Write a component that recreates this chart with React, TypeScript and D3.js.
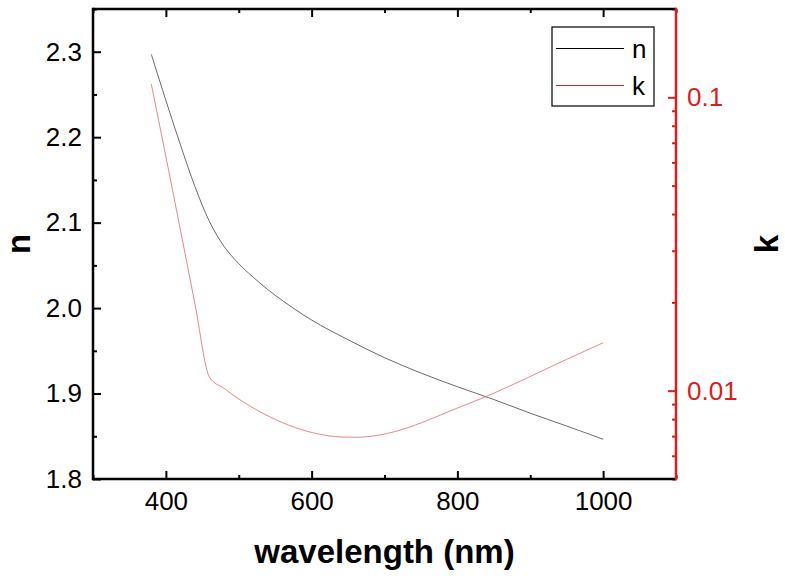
import React, { useRef, useEffect } from 'react';
import * as d3 from 'd3';

// refractive index n(λ)
const nWavelength = [380, 400, 420, 440, 460, 480, 500, 520, 550, 600, 650, 700, 750, 800, 850, 900, 950, 1000];
const nValues = [2.297, 2.243, 2.191, 2.142, 2.101, 2.072, 2.052, 2.036, 2.015, 1.986, 1.963, 1.942, 1.924, 1.908, 1.893, 1.877, 1.862, 1.8465];

// extinction coefficient k(λ)
const kWavelength = [380, 400, 420, 440, 460, 480, 500, 520, 550, 585, 620, 640, 660, 690, 720, 750, 790, 840, 900, 950, 1000];
const kValues = [0.111, 0.0628, 0.0353, 0.0197, 0.01109, 0.01018, 0.00937, 0.00873, 0.00798, 0.00738, 0.00704, 0.00695, 0.00694, 0.00704, 0.00732, 0.00776, 0.00853, 0.00956, 0.01118, 0.01279, 0.01457];

const xTicks = [400, 600, 800, 1000];
const xMinorTicks = [300, 500, 700, 900, 1100];
const nTicks = [1.8, 1.9, 2.0, 2.1, 2.2, 2.3];
const nMinorTicks = [1.85, 1.95, 2.05, 2.15, 2.25, 2.35];
const kTicks = [0.01, 0.1];
const kMinorTicks = [0.005, 0.006, 0.007, 0.008, 0.009, 0.02, 0.03, 0.04, 0.05, 0.06, 0.07, 0.08, 0.09, 0.2];

const legendItems = [
  { label: 'n', color: '#000' },
  { label: 'k', color: '#d81e1e' }
];

const FONT = "'Liberation Sans', Arial, sans-serif";
const RED = '#d81e1e';

function drawChart(svgEle: SVGSVGElement) {
  const svg = d3.select(svgEle);
  svg.selectAll('*').remove();

  const left = 93;
  const right = 676;
  const top = 9;
  const bottom = 479;

  const x = d3.scaleLinear().domain([300, 1100]).range([left, right]);
  const yN = d3.scaleLinear().domain([1.8, 2.35]).range([bottom, top]);
  const yK = d3.scaleLog().domain([0.005, 0.2]).range([bottom, top]);

  // 数据曲线
  const nLine = d3
    .line<number>()
    .x((d, i) => x(nWavelength[i]))
    .y((d) => yN(d))
    .curve(d3.curveCatmullRom);
  svg
    .append('path')
    .attr('d', nLine(nValues) as string)
    .attr('fill', 'none')
    .attr('stroke', '#444')
    .attr('stroke-width', 0.8);

  // k 在 460nm 附近有拐点，用 monotone 避免过冲
  const kLine = d3
    .line<number>()
    .x((d, i) => x(kWavelength[i]))
    .y((d) => yK(d))
    .curve(d3.curveMonotoneX);
  svg
    .append('path')
    .attr('d', kLine(kValues) as string)
    .attr('fill', 'none')
    .attr('stroke', '#e06a6a')
    .attr('stroke-width', 0.8);

  const styleAxis = (g: d3.Selection<SVGGElement, unknown, null, undefined>, color: string) => {
    g.select('.domain').remove();
    g.selectAll('line').attr('stroke', color).attr('stroke-width', 2);
    g.selectAll('text').attr('fill', color).style('font-family', FONT).style('font-size', '26px');
  };

  // 底部 x 轴
  const gx = svg
    .append('g')
    .attr('transform', `translate(0, ${bottom})`)
    .call(d3.axisBottom(x).tickValues(xTicks).tickSize(-8).tickPadding(13).tickFormat(d3.format('d')));
  styleAxis(gx, '#000');
  const gxm = svg
    .append('g')
    .attr('transform', `translate(0, ${bottom})`)
    .call(d3.axisBottom(x).tickValues(xMinorTicks).tickSize(-4).tickFormat(() => ''));
  styleAxis(gxm, '#000');

  // 顶部 x 轴，只有刻度
  const gt = svg
    .append('g')
    .attr('transform', `translate(0, ${top})`)
    .call(d3.axisTop(x).tickValues(xTicks).tickSize(-8).tickFormat(() => ''));
  styleAxis(gt, '#000');
  const gtm = svg
    .append('g')
    .attr('transform', `translate(0, ${top})`)
    .call(d3.axisTop(x).tickValues(xMinorTicks).tickSize(-4).tickFormat(() => ''));
  styleAxis(gtm, '#000');

  // 左侧 n 轴
  const gy = svg
    .append('g')
    .attr('transform', `translate(${left}, 0)`)
    .call(d3.axisLeft(yN).tickValues(nTicks).tickSize(-8).tickPadding(11).tickFormat(d3.format('.1f')));
  styleAxis(gy, '#000');
  const gym = svg
    .append('g')
    .attr('transform', `translate(${left}, 0)`)
    .call(d3.axisLeft(yN).tickValues(nMinorTicks).tickSize(-4).tickFormat(() => ''));
  styleAxis(gym, '#000');

  // 右侧 k 轴 (log)
  const gk = svg
    .append('g')
    .attr('transform', `translate(${right}, 0)`)
    .call(d3.axisRight(yK).tickValues(kTicks).tickSize(-8).tickPadding(11).tickFormat((d) => String(d)));
  styleAxis(gk, RED);
  const gkm = svg
    .append('g')
    .attr('transform', `translate(${right}, 0)`)
    .call(d3.axisRight(yK).tickValues(kMinorTicks).tickSize(-4).tickFormat(() => ''));
  styleAxis(gkm, RED);

  // 边框
  svg.append('line').attr('x1', left).attr('x2', right).attr('y1', top).attr('y2', top).attr('stroke', '#000').attr('stroke-width', 2.5);
  svg.append('line').attr('x1', left).attr('x2', right).attr('y1', bottom).attr('y2', bottom).attr('stroke', '#000').attr('stroke-width', 2.5);
  svg.append('line').attr('x1', left).attr('x2', left).attr('y1', top - 1.25).attr('y2', bottom + 1.25).attr('stroke', '#000').attr('stroke-width', 2.5);
  svg.append('line').attr('x1', right).attr('x2', right).attr('y1', top - 1.25).attr('y2', bottom + 1.25).attr('stroke', RED).attr('stroke-width', 2.5);

  // 轴标题
  svg
    .append('text')
    .attr('x', (left + right) / 2)
    .attr('y', 563)
    .attr('text-anchor', 'middle')
    .style('font-family', FONT)
    .style('font-size', '33px')
    .style('font-weight', 'bold')
    .text('wavelength (nm)');
  svg
    .append('text')
    .attr('transform', `translate(30, ${(top + bottom) / 2}) rotate(-90)`)
    .attr('text-anchor', 'middle')
    .style('font-family', FONT)
    .style('font-size', '33px')
    .style('font-weight', 'bold')
    .text('n');
  svg
    .append('text')
    .attr('transform', `translate(778, ${(top + bottom) / 2}) rotate(-90)`)
    .attr('text-anchor', 'middle')
    .style('font-family', FONT)
    .style('font-size', '33px')
    .style('font-weight', 'bold')
    .text('k');

  // 图例
  const legend = svg.append('g').attr('transform', 'translate(552, 27)');
  legend.append('rect').attr('width', 102).attr('height', 79).attr('fill', 'white').attr('stroke', '#000').attr('stroke-width', 1.2);
  legendItems.forEach((item, i) => {
    const cy = 21.5 + i * 37;
    legend.append('line').attr('x1', 4).attr('x2', 72).attr('y1', cy).attr('y2', cy).attr('stroke', item.color).attr('stroke-width', 1);
    legend
      .append('text')
      .attr('x', 80)
      .attr('y', cy)
      .attr('dy', '0.35em')
      .style('font-family', FONT)
      .style('font-size', '26px')
      .text(item.label);
  });
}

export default function App(): JSX.Element {
  const svgRef = useRef<SVGSVGElement>(null);

  useEffect(() => {
    const svgEle = svgRef.current;
    if (svgEle == null) {
      return;
    }
    drawChart(svgEle);
  }, []);

  return (
    <svg
      ref={svgRef}
      width={785}
      height={579}
      style={{ position: 'absolute', left: 0, top: 0, background: 'white' }}
    />
  );
}
